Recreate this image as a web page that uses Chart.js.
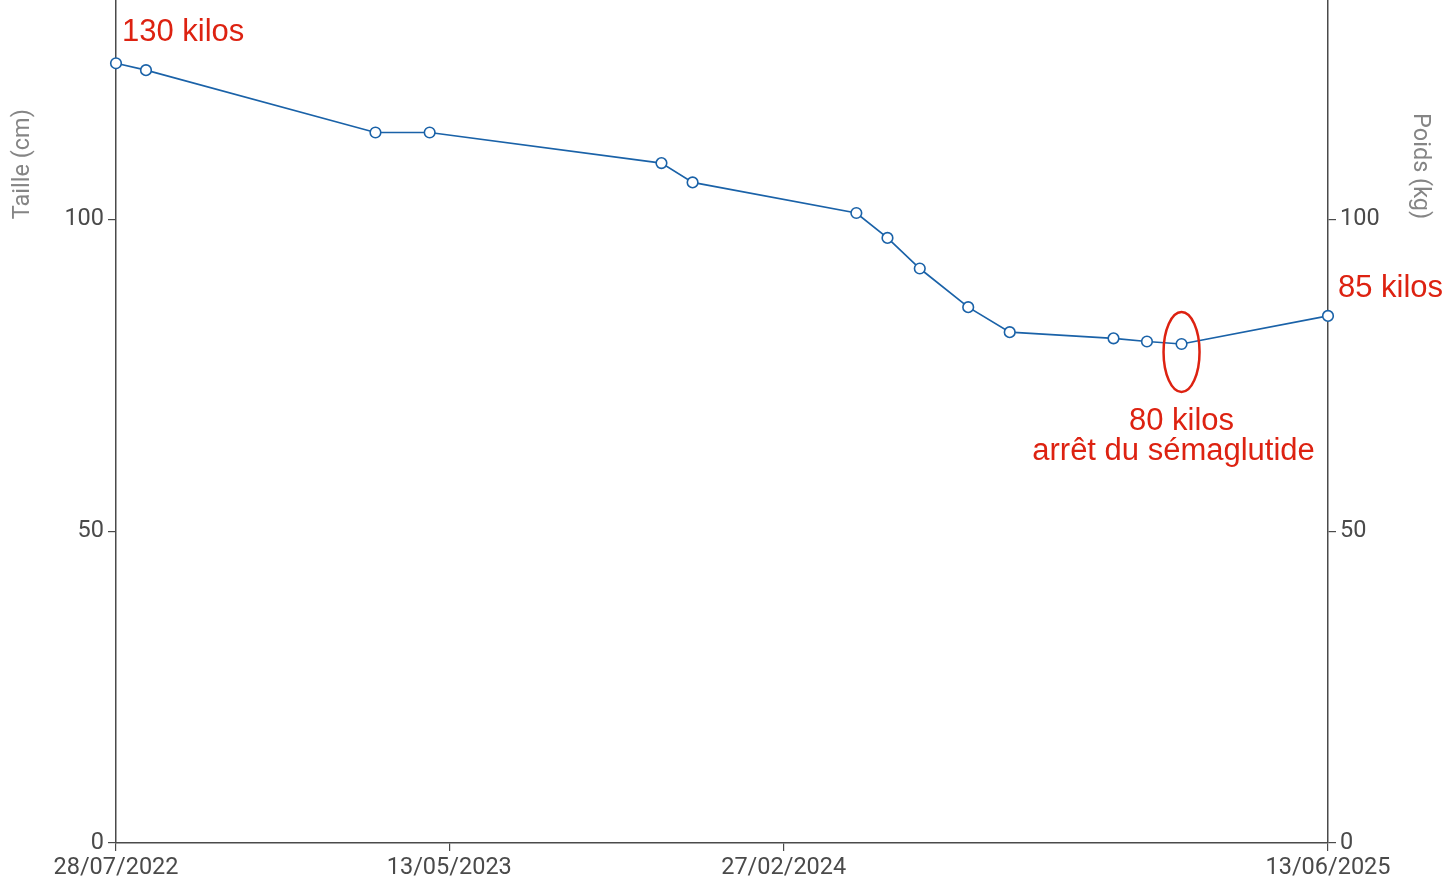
<!DOCTYPE html>
<html>
<head>
<meta charset="utf-8">
<script src="https://cdn.jsdelivr.net/npm/chart.js@4.4.0/dist/chart.umd.min.js"></script>
<style>
  html, body { margin: 0; padding: 0; background: #fff; }
  #wrap { width: 1456px; height: 892px; overflow: hidden; }
  #chart { display: block; margin-top: -6px; }
</style>
</head>
<body>
<div id="wrap"><canvas id="chart" width="1456" height="898"></canvas></div>
<script>
// Data
const measureDates = ['28/07/2022', '23/08/2022', '10/03/2023', '26/04/2023', '13/11/2023', '10/12/2023',
  '30/04/2024', '27/05/2024', '24/06/2024', '05/08/2024', '10/09/2024', '09/12/2024', '07/01/2025',
  '06/02/2025', '13/06/2025'];
const weights = [125, 123.9, 113.9, 113.9, 109, 105.9, 101, 97, 92.1, 85.9, 81.9, 80.9, 80.4, 80, 84.5];
const xTickLabels = ['28/07/2022', '13/05/2023', '27/02/2024', '13/06/2025'];
const yTicks = [0, 50, 100];
const yMax = 135;

const RED = '#dd2211';
const BLUE = '#1a62a8';
const AXIS = '#4a4a4a';

// dd/mm/yyyy -> day number
function toDay(s) {
  const [d, m, y] = s.split('/').map(Number);
  return Date.UTC(y, m - 1, d) / 86400000;
}
function fromDay(n) {
  const dt = new Date(n * 86400000);
  const p = v => String(v).padStart(2, '0');
  return `${p(dt.getUTCDate())}/${p(dt.getUTCMonth() + 1)}/${dt.getUTCFullYear()}`;
}

const points = measureDates.map((d, i) => ({ x: toDay(d), y: weights[i] }));
const xTicks = xTickLabels.map(toDay);

const tickFont = { family: 'Roboto', size: 23.5 };

function yAxis(position, width) {
  return {
    type: 'linear',
    position: position,
    min: 0,
    max: yMax,
    afterBuildTicks: scale => { scale.ticks = yTicks.map(v => ({ value: v })); },
    afterFit: scale => { scale.width = width; scale.paddingTop = 0; scale.paddingBottom = 0; },
    border: { display: true, color: AXIS, width: 1.5 },
    grid: { display: true, drawOnChartArea: false, drawTicks: true, tickLength: 8, color: AXIS, lineWidth: 1.2 },
    ticks: { color: AXIS, font: tickFont, padding: 4 }
  };
}

// annotations, axis titles and the red ellipse
const annotations = {
  id: 'annotations',
  afterDatasetsDraw(chart) {
    const ctx = chart.ctx;
    const pts = chart.getDatasetMeta(0).data;
    const first = pts[0], last = pts[pts.length - 1], stop = pts[13];
    ctx.save();

    ctx.fillStyle = RED;
    ctx.font = '31px "Liberation Sans", Arial, sans-serif';
    ctx.textBaseline = 'alphabetic';
    ctx.textAlign = 'left';
    ctx.fillText('130 kilos', first.x + 6, first.y - 22);
    ctx.fillText('85 kilos', last.x + 10, last.y - 19);
    ctx.textAlign = 'center';
    ctx.fillText('80 kilos', stop.x, stop.y + 86);
    ctx.fillText('arrêt du sémaglutide', stop.x - 8, stop.y + 116);

    ctx.strokeStyle = RED;
    ctx.lineWidth = 2.5;
    ctx.beginPath();
    ctx.ellipse(stop.x, stop.y + 8, 18, 40, 0, 0, Math.PI * 2);
    ctx.stroke();

    // axis titles
    const y100 = chart.scales.y.getPixelForValue(100);
    ctx.fillStyle = '#858585';
    ctx.font = '23.5px Roboto';
    ctx.textBaseline = 'middle';
    ctx.textAlign = 'left';
    ctx.save();
    ctx.translate(23, y100);
    ctx.rotate(-Math.PI / 2);
    ctx.fillText('Taille (cm)', 0, 0);
    ctx.restore();
    ctx.save();
    ctx.translate(1420, y100);
    ctx.rotate(Math.PI / 2);
    ctx.textAlign = 'right';
    ctx.fillText('Poids (kg)', 0, 0);
    ctx.restore();

    ctx.restore();
  }
};

new Chart(document.getElementById('chart'), {
  type: 'line',
  data: {
    datasets: [{
      label: 'Poids',
      data: points,
      borderColor: BLUE,
      borderWidth: 1.7,
      backgroundColor: '#ffffff',
      pointBackgroundColor: '#ffffff',
      pointBorderColor: BLUE,
      pointBorderWidth: 1.6,
      pointRadius: 5.3,
      tension: 0,
      clip: false
    }]
  },
  options: {
    responsive: false,
    animation: false,
    devicePixelRatio: 1,
    layout: { padding: 0 },
    plugins: { legend: { display: false }, tooltip: { enabled: false } },
    scales: {
      x: {
        type: 'linear',
        min: xTicks[0],
        max: xTicks[xTicks.length - 1],
        afterBuildTicks: scale => { scale.ticks = xTicks.map(v => ({ value: v })); },
        afterFit: scale => { scale.height = 49; },
        border: { display: true, color: AXIS, width: 1.5 },
        grid: { display: true, drawOnChartArea: false, drawTicks: true, tickLength: 8, color: AXIS, lineWidth: 1.2 },
        ticks: { color: AXIS, font: tickFont, padding: 3, maxRotation: 0, autoSkip: false, callback: v => fromDay(v) }
      },
      y: yAxis('left', 116),
      y2: yAxis('right', 128)
    }
  },
  plugins: [annotations]
});
</script>
</body>
</html>
